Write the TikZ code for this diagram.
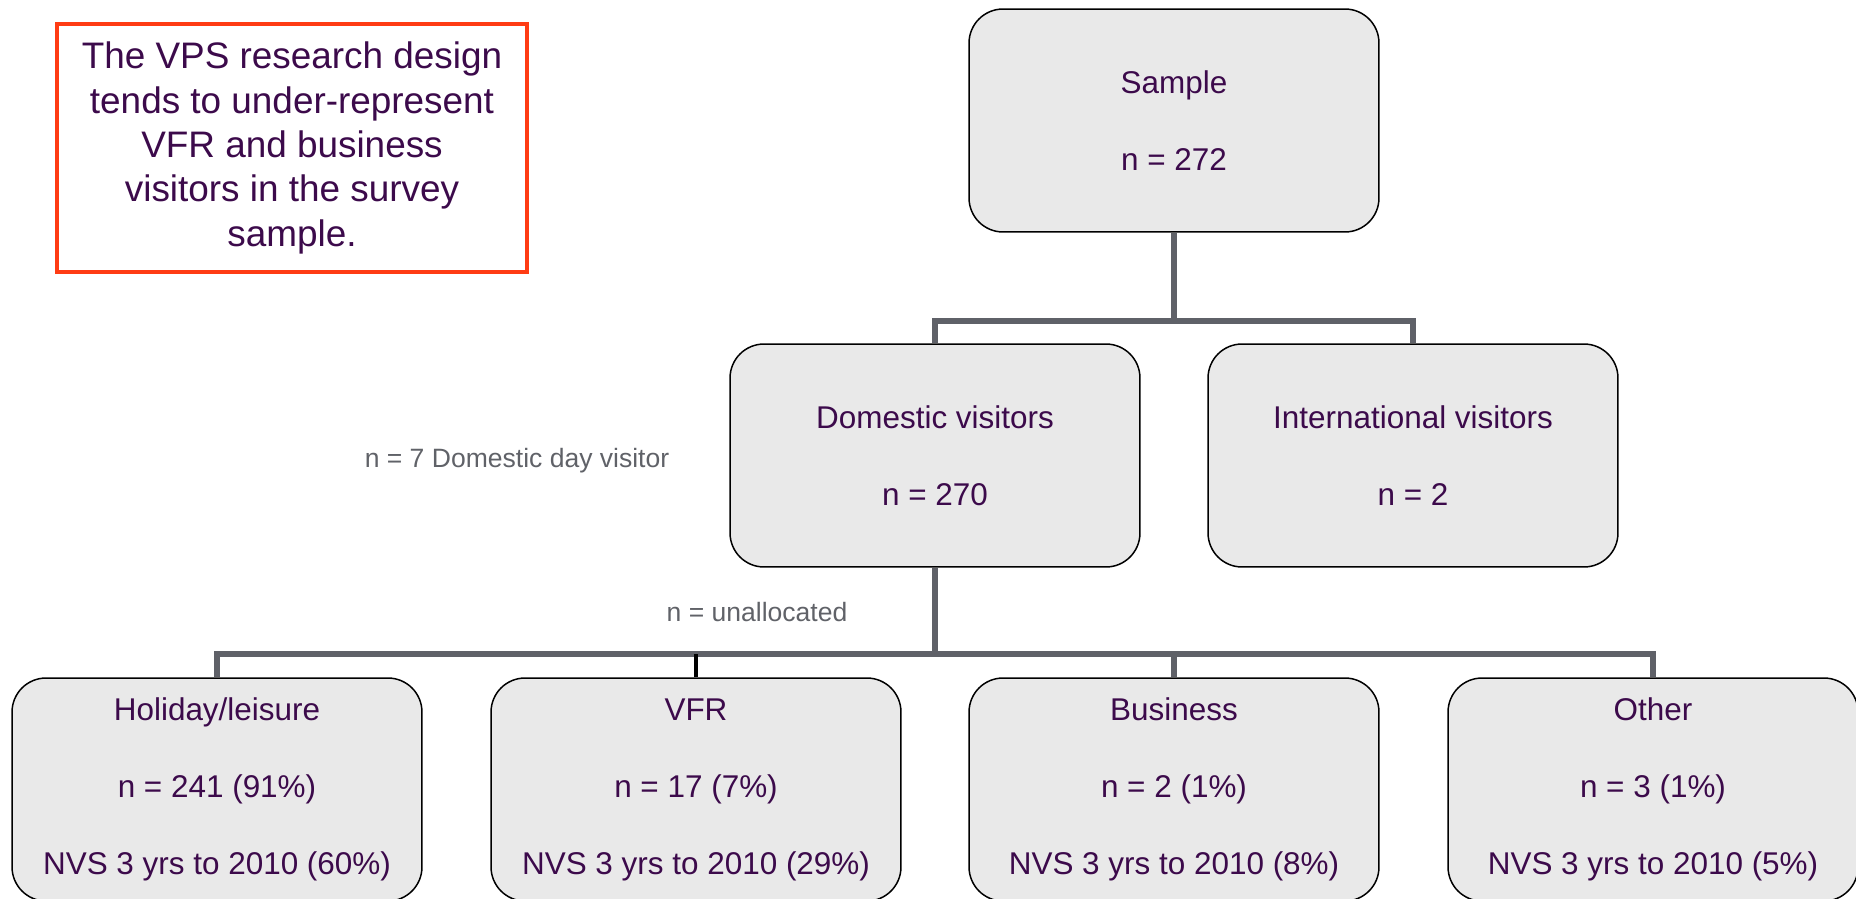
\documentclass[tikz,border=0pt]{standalone}
\usepackage{fontspec}
\setmainfont{Liberation Sans}
\definecolor{boxfill}{HTML}{E9E9E9}
\definecolor{textpurple}{HTML}{3C0A4B}
\definecolor{linegrey}{HTML}{5F6168}
\definecolor{notered}{HTML}{FF3C14}
\definecolor{labelgrey}{HTML}{606268}
\begin{document}
\begin{tikzpicture}[x=0.02cm, y=-0.02cm,
        groupbox/.style={draw=black, line width=0.85pt, fill=boxfill, rounded corners=0.68cm,
            minimum width=8.2cm, minimum height=4.46cm, inner sep=0pt, align=center,
            text=textpurple, font=\fontsize{17.9}{43.8}\selectfont},
        branch/.style={draw=linegrey, line width=3.4pt},
        sidenote/.style={text=labelgrey, inner sep=0pt, font=\fontsize{15.1}{18}\selectfont}
    ]
        \useasboundingbox (0,0) rectangle (1856,899);
        % comment box
        \node[draw=notered, line width=2pt, minimum width=9.4cm, minimum height=4.96cm,
            align=center, text=textpurple, font=\fontsize{21}{25.3}\selectfont] (note) at (292,148)
            {The VPS research design\\tends to under-represent\\VFR and business\\visitors in the survey\\sample.};
        % tree
        \node[groupbox] (sample) at (1174,120.5) {Sample\\n = 272};
        \node[groupbox] (domestic) at (935,455.5) {Domestic visitors\\n = 270};
        \node[groupbox] (intl) at (1413,455.5) {International visitors\\n = 2};
        \node[groupbox] (holiday) at (217,789.5) {Holiday/leisure\\n = 241 (91\%)\\NVS 3 yrs to 2010 (60\%)};
        \node[groupbox] (vfr) at (696,789.5) {VFR\\n = 17 (7\%)\\NVS 3 yrs to 2010 (29\%)};
        \node[groupbox] (business) at (1174,789.5) {Business\\n = 2 (1\%)\\NVS 3 yrs to 2010 (8\%)};
        \node[groupbox] (other) at (1653,789.5) {Other\\n = 3 (1\%)\\NVS 3 yrs to 2010 (5\%)};
        \coordinate (split1) at (1174,321);
        \coordinate (split2) at (935,654);
        \draw[branch] (sample.south) -- (split1);
        \draw[branch] (domestic.north) |- (split1) -| (intl.north);
        \draw[branch] (domestic.south) -- (split2);
        \draw[branch] (holiday.north) |- (split2) -| (other.north);
        \draw[branch] (business.north) -- (business.north |- split2);
        \draw[black, line width=2.8pt] (vfr.north) -- (vfr.north |- split2);
        % side labels
        \node[sidenote] (dayvisit) at (517,461) {n = 7 Domestic day visitor};
        \node[sidenote] (unalloc) at (757,612) {n = unallocated};
    \end{tikzpicture}
\end{document}
